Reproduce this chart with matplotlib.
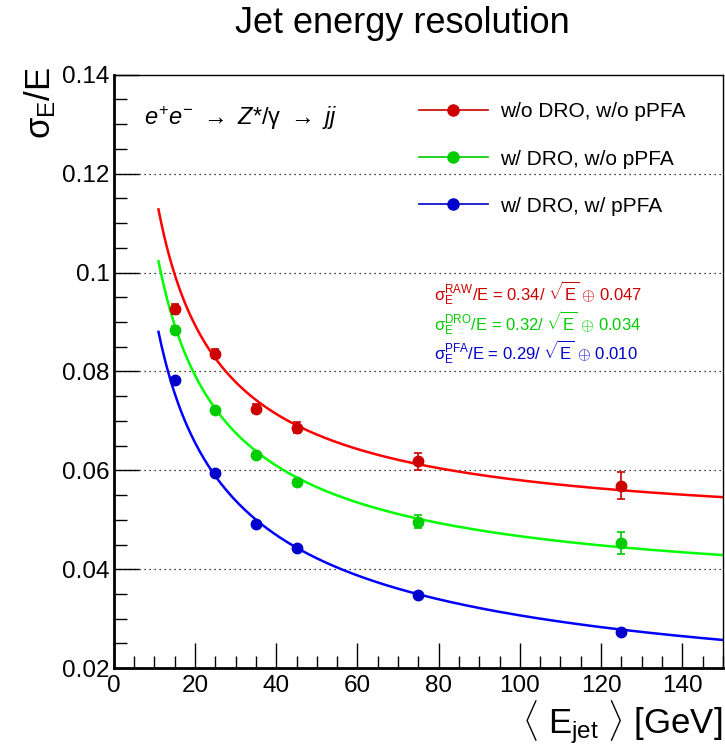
import matplotlib
matplotlib.use('Agg')
import matplotlib.pyplot as plt
from matplotlib.ticker import MultipleLocator
from matplotlib.lines import Line2D
import numpy as np

plt.rcParams['font.family'] = ['Liberation Sans', 'DejaVu Sans']
plt.rcParams['mathtext.fontset'] = 'custom'
plt.rcParams['mathtext.rm'] = 'Liberation Sans'
plt.rcParams['mathtext.it'] = 'Liberation Sans:italic'
plt.rcParams['mathtext.sf'] = 'Liberation Sans'

# ----- data -----------------------------------------------------
energy = [15, 25, 35, 45, 75, 125]

res_raw = [0.0926, 0.0836, 0.0725, 0.0686, 0.0618, 0.0569]
err_raw = [0.0010, 0.0009, 0.0009, 0.0011, 0.0017, 0.0027]

res_dro = [0.0883, 0.0722, 0.0631, 0.0576, 0.0496, 0.0453]
err_dro = [0.0008, 0.0007, 0.0006, 0.0007, 0.0013, 0.0023]

res_pfa = [0.0783, 0.0595, 0.0492, 0.0442, 0.0348, 0.0274]
err_pfa = [0.0004, 0.0004, 0.0004, 0.0004, 0.0004, 0.0006]

# fit parameters: sigma/E = a/sqrt(E) (+) b
stoch = [0.34, 0.32, 0.29]
const = [0.047, 0.034, 0.010]
fit_range = [11, 150]

labels = ['w/o DRO, w/o pPFA', 'w/ DRO, w/o pPFA', 'w/ DRO, w/ pPFA']
fit_tags = ['RAW', 'DRO', 'PFA']

pt_colors = ['#cc0000', '#00cc00', '#0000cc']
line_colors = ['#ff0000', '#00ff00', '#0000ff']

# ----- plot -----------------------------------------------------
fig = plt.figure(figsize=(7.25, 7.55), dpi=100)
ax = fig.add_axes([0.157, 0.115, 0.840, 0.786])

e_fit = np.linspace(fit_range[0], fit_range[1], 400)
series = [(res_raw, err_raw), (res_dro, err_dro), (res_pfa, err_pfa)]

for i, (res, err) in enumerate(series):
    curve = np.sqrt((stoch[i] / np.sqrt(e_fit))**2 + const[i]**2)
    ax.plot(e_fit, curve, color=line_colors[i], lw=1.8, zorder=2)
    ax.errorbar(energy, res, yerr=err, fmt='o', color=pt_colors[i], ms=7.5,
                elinewidth=1.2, capsize=3, capthick=1.2, zorder=3)

ax.set_xlim(0, 150)
ax.set_ylim(0.02, 0.14)
ax.xaxis.set_major_locator(MultipleLocator(20))
ax.xaxis.set_minor_locator(MultipleLocator(5))
ax.yaxis.set_minor_locator(MultipleLocator(0.005))
ax.set_yticks([0.02, 0.04, 0.06, 0.08, 0.1, 0.12, 0.14])
ax.set_yticklabels(['0.02', '0.04', '0.06', '0.08', '0.1', '0.12', '0.14'])

ax.tick_params(which='both', direction='in', labelsize=17.5, top=False, right=False)
ax.tick_params(which='major', length=18, width=1)
ax.tick_params(which='minor', length=9, width=1)
ax.tick_params(axis='x', pad=5)
ax.tick_params(axis='y', pad=3)

for y in [0.04, 0.06, 0.08, 0.1, 0.12]:
    ax.axhline(y, color='black', ls=(0, (1, 3)), lw=0.9, zorder=1)

ax.spines['left'].set_linewidth(2)
ax.spines['bottom'].set_linewidth(2)
ax.spines['top'].set_linewidth(1)
ax.spines['right'].set_linewidth(1)

fig.text(0.555, 0.969, 'Jet energy resolution', ha='center', va='center', fontsize=26)
fig.text(0.055, 0.912, r'σ$_{\mathrm{E}}$/E', rotation=90, ha='center', va='top', fontsize=25)
fig.text(0.997, 0.044, r'$\langle$ E$_{\mathrm{jet}}$ $\rangle$ [GeV]', ha='right', va='center', fontsize=25)

ax.text(0.05, 0.95, r'$e^{+}e^{-}$ $\rightarrow$ $Z$*/γ $\rightarrow$ $jj$',
        transform=ax.transAxes, fontsize=17, ha='left', va='top')

handles = [Line2D([0], [0], color=pt_colors[i], lw=1.2, marker='o', ms=8) for i in range(3)]
ax.legend(handles, labels, loc='upper left', bbox_to_anchor=(0.47, 0.985), frameon=False,
          fontsize=15, handlelength=3.3, labelspacing=1.35, handletextpad=0.6)

for i in range(3):
    ax.text(0.525, 0.632 - i * 0.05,
            r'σ$_{\mathrm{E}}^{\mathrm{' + fit_tags[i] + r'}}$/E = ' + f'{stoch[i]:.2f}'
            + r'/ $\sqrt{\mathrm{E}}$ $\oplus$ ' + f'{const[i]:.3f}',
            transform=ax.transAxes, color=pt_colors[i], fontsize=12, ha='left', va='center')

fig.savefig('out.png', dpi=100)
